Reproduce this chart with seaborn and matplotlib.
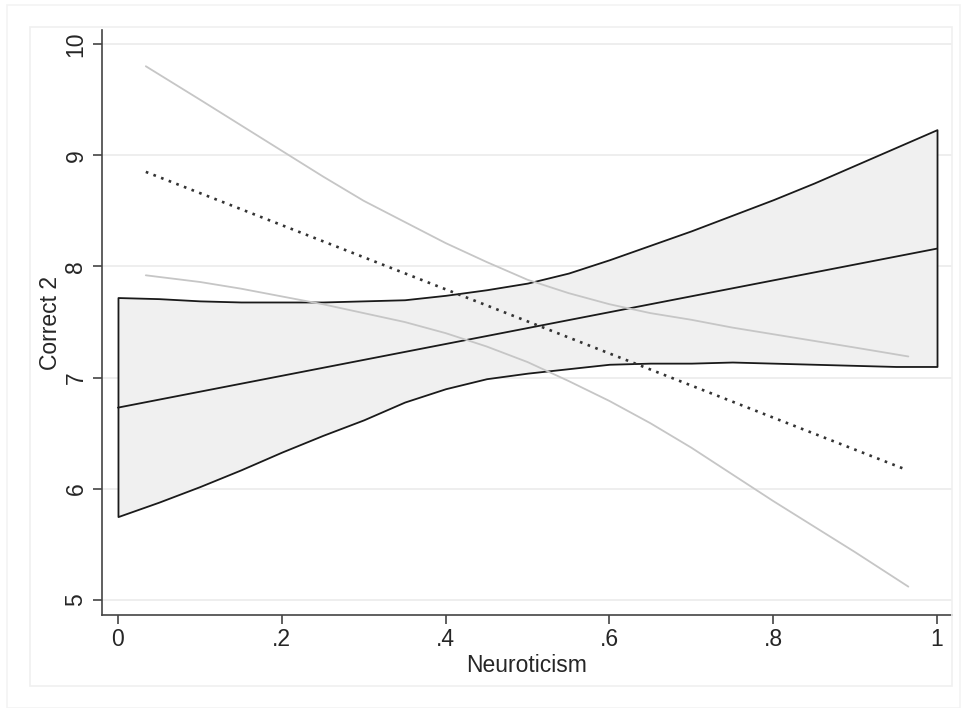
import numpy as np
import pandas as pd
import matplotlib
matplotlib.use("Agg")
import matplotlib.pyplot as plt
import seaborn as sns
from matplotlib.patches import Rectangle

# confidence band of the fitted line
band_x = [0, .05, .1, .15, .2, .25, .3, .35, .4, .45, .5, .55, .6, .65, .7, .75, .8, .85, .9, .95, 1]
band_lower = [5.75, 5.88, 6.02, 6.17, 6.33, 6.48, 6.62, 6.78, 6.90, 6.99, 7.04, 7.08, 7.12, 7.13,
              7.13, 7.14, 7.13, 7.12, 7.11, 7.10, 7.10]
band_upper = [7.72, 7.71, 7.69, 7.68, 7.68, 7.68, 7.69, 7.70, 7.74, 7.79, 7.85, 7.94, 8.06, 8.19,
              8.32, 8.46, 8.60, 8.75, 8.91, 9.07, 9.23]

# fitted line
fit_x = [0, 1]
fit_y = [6.73, 8.16]

# light gray curves
curve_x = [0.034, 0.1, 0.15, 0.2, 0.25, 0.3, 0.35, 0.4, 0.45, 0.5, 0.55, 0.6, 0.65, 0.7, 0.75,
           0.8, 0.9, 0.965]
curve_high = [9.80, 9.50, 9.27, 9.04, 8.81, 8.59, 8.40, 8.21, 8.04, 7.88, 7.76, 7.66, 7.58, 7.52,
              7.45, 7.39, 7.27, 7.19]
curve_low = [7.92, 7.86, 7.80, 7.73, 7.66, 7.58, 7.50, 7.40, 7.28, 7.14, 6.97, 6.79, 6.59, 6.37,
             6.13, 5.89, 5.43, 5.12]

# dotted line
dot_x = [0.034, 0.963]
dot_y = [8.85, 6.17]

x_ticks = [0, .2, .4, .6, .8, 1]
x_labels = ['0', '.2', '.4', '.6', '.8', '1']
y_ticks = [5, 6, 7, 8, 9, 10]

sns.set_style("white")
plt.rcParams['font.family'] = ['Liberation Sans', 'DejaVu Sans']

fig = plt.figure(figsize=(9.67, 7.08), dpi=100)
ax = fig.add_axes([102 / 967, 1 - 615 / 708, 850 / 967, 585 / 708])

# light frames around the graph
fig.patches.append(Rectangle((7 / 967, 0), 953 / 967, 1 - 5 / 708, transform=fig.transFigure,
                             fill=False, edgecolor='#f3f3f3', lw=1.2))
fig.patches.append(Rectangle((30 / 967, 1 - 686 / 708), 922 / 967, 659 / 708, transform=fig.transFigure,
                             fill=False, edgecolor='#f0f0f0', lw=1.2))

for yt in y_ticks:
    ax.axhline(yt, color='#ebebeb', lw=1.2, zorder=0)

ax.fill_between(band_x, band_lower, band_upper, facecolor='#f0f0f0', edgecolor='#1a1a1a',
                lw=1.3, zorder=1)

fit_df = pd.DataFrame({'x': fit_x, 'y': fit_y})
sns.lineplot(data=fit_df, x='x', y='y', color='#1a1a1a', lw=1.3, ax=ax, zorder=2)

curves = pd.DataFrame({'x': curve_x * 2,
                       'y': curve_high + curve_low,
                       'curve': ['high'] * len(curve_x) + ['low'] * len(curve_x)})
sns.lineplot(data=curves, x='x', y='y', units='curve', estimator=None, color='#c6c6c6',
             lw=1.3, ax=ax, zorder=3)

dot_df = pd.DataFrame({'x': dot_x, 'y': dot_y})
sns.lineplot(data=dot_df, x='x', y='y', color='#333333', lw=1.9, ax=ax, zorder=4,
             linestyle=(0, (1, 2.1)))

ax.set_xlim(-0.0195, 1.0183)
ax.set_ylim(4.865, 10.126)
ax.set_xticks(x_ticks)
ax.set_xticklabels(x_labels)
ax.set_yticks(y_ticks)
ax.set_yticklabels([str(v) for v in y_ticks], rotation=90, va='center')

for side in ['top', 'right']:
    ax.spines[side].set_visible(False)
for side in ['left', 'bottom']:
    ax.spines[side].set_color('#444444')
    ax.spines[side].set_linewidth(1.2)

ax.tick_params(axis='both', which='major', direction='out', length=6.5, width=1.2,
               color='#444444', labelsize=16.5, left=True, bottom=True)
ax.tick_params(axis='x', pad=3)
ax.tick_params(axis='y', pad=4)

ax.set_xlabel('Neuroticism', fontsize=16.5, labelpad=2)
ax.set_ylabel('Correct 2', fontsize=16.5, labelpad=2)

fig.savefig('out.png', dpi=100)
